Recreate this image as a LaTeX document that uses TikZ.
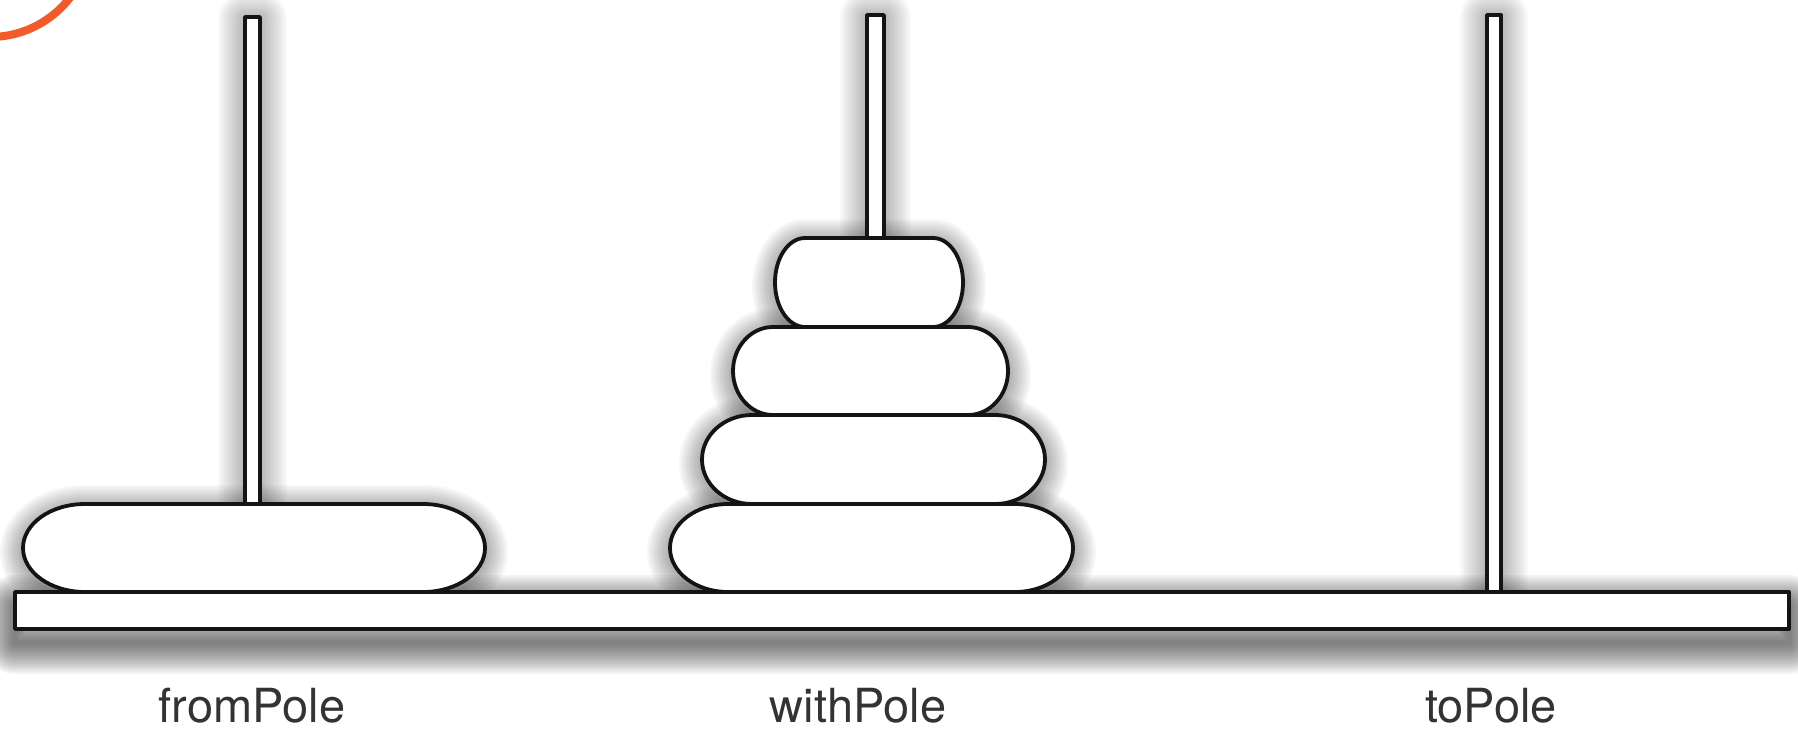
\documentclass[tikz,border=0pt]{standalone}
\usepackage{fontspec}
\setmainfont{TeX Gyre Heros}
\usetikzlibrary{positioning}
\definecolor{cornerarc}{RGB}{242,90,41}
\tikzset{
  rim/.style={draw=black!92,line width=3.8pt,fill=white,line join=round},
  glow/.style={draw=black,line join=round},
  polename/.style={font=\fontsize{47}{56}\selectfont,text=black!80,anchor=base,inner sep=0pt},
}
% disk outline: left, top, right, bottom, end radius
\newcommand{\diskpath}[5]{({#1+#5},#2) -- ({#3-#5},#2)
  arc[start angle=-90,end angle=90,x radius=#5,y radius={(#4-#2)/2}]
  -- ({#1+#5},#4)
  arc[start angle=90,end angle=270,x radius=#5,y radius={(#4-#2)/2}] -- cycle}
% soft shadow: shift, opacity, widest stroke, path
\newcommand{\softshadow}[4]{%
  \foreach \w in {6,10,...,#3} \draw[glow,opacity=#2,line width=\w pt,yshift=#1] #4;}

\begin{document}
\begin{tikzpicture}[x=1pt,y=-1pt]
  \useasboundingbox (0,0) rectangle (1798,733);
  % corner mark
  \begin{scope}
    \clip (0,0) rectangle (1798,733);
    \draw[cornerarc,line width=8pt] (-10,-64) circle[radius=101];
  \end{scope}

  % shadows
  \softshadow{-2pt}{0.025}{54}{(245,17) rectangle (260,504)}
  \softshadow{-2pt}{0.025}{54}{(867,15) rectangle (884,238)}
  \softshadow{-2pt}{0.025}{54}{(1487,15) rectangle (1501,592)}
  \softshadow{-4pt}{0.03}{46}{\diskpath{23}{504}{485}{592}{62}}
  \softshadow{-4pt}{0.03}{46}{\diskpath{670}{504}{1073}{592}{58}}
  \softshadow{-4pt}{0.03}{46}{\diskpath{702}{415}{1045}{504}{50}}
  \softshadow{-4pt}{0.03}{46}{\diskpath{733}{327}{1008}{415}{40}}
  \softshadow{-4pt}{0.03}{46}{\diskpath{775}{238}{963}{327}{30}}
  \softshadow{-14pt}{0.045}{62}{(15,592) rectangle (1789,629)}

  % poles
  \draw[rim] (245,17) rectangle (260,504);
  \draw[rim] (867,15) rectangle (884,238);
  \draw[rim] (1487,15) rectangle (1501,592);

  % disks
  \draw[rim] \diskpath{23}{504}{485}{592}{62};
  \draw[rim] \diskpath{670}{504}{1073}{592}{58};
  \draw[rim] \diskpath{702}{415}{1045}{504}{50};
  \draw[rim] \diskpath{733}{327}{1008}{415}{40};
  \draw[rim] \diskpath{775}{238}{963}{327}{30};

  % base
  \draw[rim] (15,592) rectangle (1789,629);

  % labels
  \node[polename] (fromlbl) at (252,722) {fromPole};
  \node[polename] (withlbl) at (858,722) {withPole};
  \node[polename] (tolbl) at (1491,722) {toPole};
\end{tikzpicture}
\end{document}
